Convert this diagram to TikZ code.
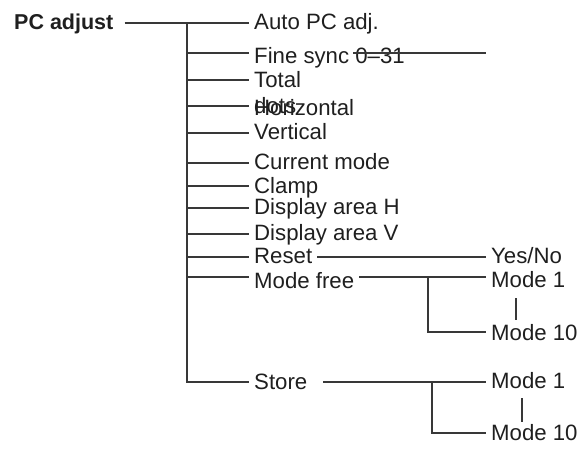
\documentclass[tikz,border=0pt]{standalone}
\usepackage{fontspec}
\setmainfont{Liberation Sans}
\begin{document}
\begin{tikzpicture}[x=1pt, y=-1pt, font=\fontsize{22.2}{26}\selectfont,
    item/.style={anchor=base west, inner xsep=5pt, inner ysep=0pt, text=black!88},
    conn/.style={line width=1.4pt, black!78}]
  \useasboundingbox (0,0) rectangle (585,451);
  % left column
  \node[item, font=\fontsize{21.5}{26}\selectfont\bfseries] (pc) at (9,29) {PC adjust};
  \node[item] (auto) at (249,29) {Auto PC adj.};
  \node[item] (fine) at (249,63) {Fine sync 0--31};
  \node[item] (total) at (249,87) {Total};
  \node[item] (dots) at (249,113) {dots};
  \node[item] (horiz) at (249,115) {Horizontal};
  \node[item] (vert) at (249,139) {Vertical};
  \node[item] (current) at (249,169) {Current mode};
  \node[item] (clamp) at (249,193) {Clamp};
  \node[item] (disph) at (249,214) {Display area H};
  \node[item] (dispv) at (249,240) {Display area V};
  \node[item] (reset) at (249,263) {Reset};
  \node[item] (modefree) at (249,288) {Mode free};
  \node[item] (store) at (249,389) {Store};
  % right column
  \node[item] (yesno) at (486,263) {Yes/No};
  \node[item] (m1a) at (486,287) {Mode 1};
  \node[item] (m10a) at (486,340) {Mode 10};
  \node[item] (m1b) at (486,388) {Mode 1};
  \node[item] (m10b) at (486,440) {Mode 10};
  % trunk points
  \coordinate (t1) at (187,23);
  \coordinate (t2) at (187,53);
  \coordinate (t3) at (187,80);
  \coordinate (t4) at (187,106);
  \coordinate (t5) at (187,133);
  \coordinate (t6) at (187,163);
  \coordinate (t7) at (187,186);
  \coordinate (t8) at (187,208);
  \coordinate (t9) at (187,234);
  \coordinate (t10) at (187,257);
  \coordinate (t11) at (187,277);
  \coordinate (t12) at (187,382);
  \coordinate (fsa) at (353,53);
  \coordinate (mfk) at (428,277);
  \coordinate (mfb) at (428,332);
  \coordinate (stk) at (432,382);
  \coordinate (stb) at (432,433);
  % connectors
  \draw[conn] ([xshift=6pt]pc.east |- t1) -- (t1 -| auto.west);
  \draw[conn] (t1) |- (t12 -| store.west);
  \draw[conn] (t2) -- (t2 -| fine.west);
  \draw[conn] (t3) -- (t3 -| total.west);
  \draw[conn] (t4) -- (t4 -| horiz.west);
  \draw[conn] (t5) -- (t5 -| vert.west);
  \draw[conn] (t6) -- (t6 -| current.west);
  \draw[conn] (t7) -- (t7 -| clamp.west);
  \draw[conn] (t8) -- (t8 -| disph.west);
  \draw[conn] (t9) -- (t9 -| dispv.west);
  \draw[conn] (t10) -- (t10 -| reset.west);
  \draw[conn] (t11) -- (t11 -| modefree.west);
  \draw[conn] (fsa) -- (fsa -| yesno.west);
  \draw[conn] (reset.east |- t10) -- (t10 -| yesno.west);
  \draw[conn] (modefree.east |- t11) -- (t11 -| m1a.west);
  \draw[conn] (mfk) -- (mfb) -- (mfb -| m10a.west);
  \draw[conn] ([xshift=11pt]store.east |- t12) -- (t12 -| m1b.west);
  \draw[conn] (stk) -- (stb) -- (stb -| m10b.west);
  \draw[conn] ([xshift=30pt,yshift=-11pt]m1a.base west) -- ([xshift=30pt,yshift=20pt]m10a.base west);
  \draw[conn] ([xshift=36pt,yshift=-10pt]m1b.base west) -- ([xshift=36pt,yshift=18pt]m10b.base west);
\end{tikzpicture}
\end{document}
